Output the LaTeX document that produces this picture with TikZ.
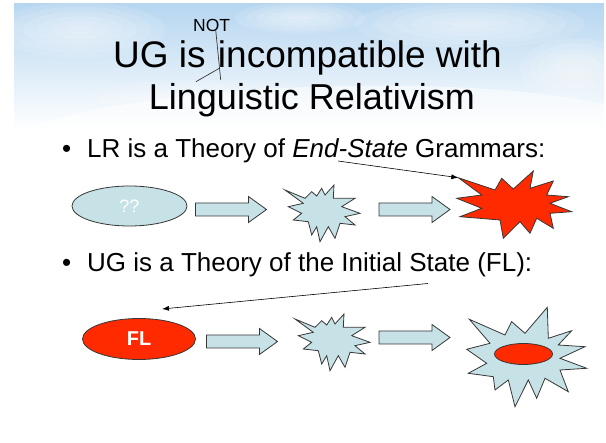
\documentclass[tikz,border=0pt]{standalone}
\usepackage{fontspec}
\setmainfont{Liberation Sans}
\usetikzlibrary{arrows.meta,shapes.geometric}
\definecolor{paleblue}{RGB}{198,226,230}
\definecolor{burst}{RGB}{255,42,0}
\definecolor{sky}{RGB}{182,214,240}
\definecolor{rim}{RGB}{55,55,55}

\begin{document}
\begin{tikzpicture}[x=1pt,y=-1pt,>={Latex[length=7pt,width=5pt]},
  title/.style={inner sep=0pt,anchor=base},
  item/.style={font=\fontsize{26}{28}\selectfont,inner sep=0pt,anchor=base west},
  oval/.style={draw=rim,line width=0.8pt,ellipse,inner sep=0pt},
  blob/.style={draw=rim,line width=0.8pt,line join=miter},
  pointer/.style={->,line width=0.6pt,black},
  fatarrow/.pic={\draw[blob,fill=paleblue] (0,-6.5) -- (53,-6.5) -- (53,-13) -- (71,0) -- (53,13) -- (53,6.5) -- (0,6.5) -- cycle;}]
  \useasboundingbox (0,0) rectangle (606,443);
  % --- sky behind the title ---
  \shade[top color=sky,bottom color=white] (14,4) rectangle (604,130);
  \begin{scope}
  \clip (14,4) rectangle (604,130);
  \foreach \cx/\cy/\rx/\ry in {80/30/85/28, 470/24/115/24, 575/70/55/32, 300/18/65/16, 200/100/120/20}
    \foreach \k in {1,...,6}
      \fill[white,opacity=0.12] (\cx,\cy) ellipse ({\rx*\k/6} and {\ry*\k/6});
  \fill[white,opacity=0.5] (14,132) .. controls (140,82) and (460,72) .. (604,104) -- (604,132) -- cycle;
  \end{scope}
  % --- title ---
  \node[title,anchor=base west,font=\fontsize{37}{40}\selectfont] (ugis) at (113,68) {UG is};
  \node[title,anchor=base east,font=\fontsize{37}{40}\selectfont] (incomp) at (502,68) {incompatible with};
  \node[title,font=\fontsize{36}{40}\selectfont] (lr) at (312,110) {Linguistic Relativism};
  \node[title,anchor=base west,font=\fontsize{17.5}{18}\selectfont] (not) at (193,32) {NOT};
  \coordinate (c1) at (215.7,30); \coordinate (c2) at (220.7,80);
  \coordinate (c3) at (196,81.7); \coordinate (c4) at (219.3,68.3);
  \draw[rim,line width=0.7pt] (c1) -- (c2);
  \draw[rim,line width=0.7pt] (c3) -- (c4);
  % --- row 1: LR ---
  \node[item] (dot1) at (62,158) {•};
  \node[item] (lrtext) at (87,158) {LR is a Theory of \textit{End-State} Grammars:};
  \node[oval,fill=paleblue,minimum width=115pt,minimum height=40pt] (qq) at (129.5,206)
    {\fontsize{18}{20}\selectfont\color{white}??};
  \pic at (195.5,209.5) {fatarrow};
  \draw[blob,fill=paleblue] (285,190) -- (305,198.3) -- (311.7,191.7) -- (316.7,196) -- (321.7,188.3)
    -- (325,195) -- (334,185) -- (333.3,198.3) -- (355,198.3) -- (341.7,206.7) -- (360,213.3)
    -- (345,216.7) -- (355,225) -- (340,223.3) -- (335,238.3) -- (328.3,226.7) -- (320,241.7)
    -- (316.7,226.7) -- (311.7,235) -- (308.3,221.7) -- (293.3,220) -- (301.7,213.3)
    -- (288.3,206.7) -- (303.3,203.3) -- cycle;
  \pic at (379,209.5) {fatarrow};
  \draw[blob,fill=burst] (458.3,177.7) -- (495,190) -- (501.7,178.3) -- (513.3,189) -- (533.3,171)
    -- (530,188.3) -- (553.3,181) -- (546.7,195) -- (568.3,196.7) -- (550,203.3) -- (571.7,211.7)
    -- (550,213.3) -- (553.3,228.3) -- (536.7,218.3) -- (530,233.3) -- (520,221.7) -- (503.3,238.3)
    -- (500,220) -- (460,216.7) -- (481.7,208.3) -- (456.7,198.3) -- (481.7,195) -- cycle;
  \coordinate (endstate) at (338,161);
  \coordinate (bursttip) at (458.3,177.7);
  \draw[pointer] (endstate) -- (bursttip);
  % --- row 2: UG ---
  \node[item] (dot2) at (62,272) {•};
  \node[item] (ugtext) at (87,272) {UG is a Theory of the Initial State (FL):};
  \node[oval,fill=burst,minimum width=113pt,minimum height=41pt] (fl) at (139,339)
    {\fontsize{20}{22}\selectfont\bfseries\color{white}FL};
  \pic at (206.5,341.5) {fatarrow};
  \begin{scope}[shift={(10,129)}]
  \draw[blob,fill=paleblue] (285,190) -- (305,198.3) -- (311.7,191.7) -- (316.7,196) -- (321.7,188.3)
    -- (325,195) -- (334,185) -- (333.3,198.3) -- (355,198.3) -- (341.7,206.7) -- (360,213.3)
    -- (345,216.7) -- (355,225) -- (340,223.3) -- (335,238.3) -- (328.3,226.7) -- (320,241.7)
    -- (316.7,226.7) -- (311.7,235) -- (308.3,221.7) -- (293.3,220) -- (301.7,213.3)
    -- (288.3,206.7) -- (303.3,203.3) -- cycle;
  \end{scope}
  \pic at (379,337.5) {fatarrow};
  \draw[blob,fill=paleblue] (469.3,319.3) -- (505,335) -- (511.7,321.7) -- (525,333.3) -- (547.3,307.3)
    -- (548.3,338.3) -- (571.7,330.7) -- (558.3,345) -- (585,346.7) -- (560,358.3) -- (586.7,368.3)
    -- (560,370) -- (568.3,391.7) -- (545,378.3) -- (536.7,398.3) -- (528.3,380) -- (515,406.7)
    -- (508.3,380) -- (495,390) -- (493.3,376.7) -- (468.3,373.3) -- (486.7,363.3) -- (466.7,349.3)
    -- (490,343.3) -- cycle;
  \node[oval,fill=burst,minimum width=58pt,minimum height=21pt] (core) at (523.5,354) {};
  \coordinate (flstate) at (428,283.5);
  \coordinate (flhead) at (162,309);
  \draw[pointer] (flstate) -- (flhead);
\end{tikzpicture}
\end{document}
